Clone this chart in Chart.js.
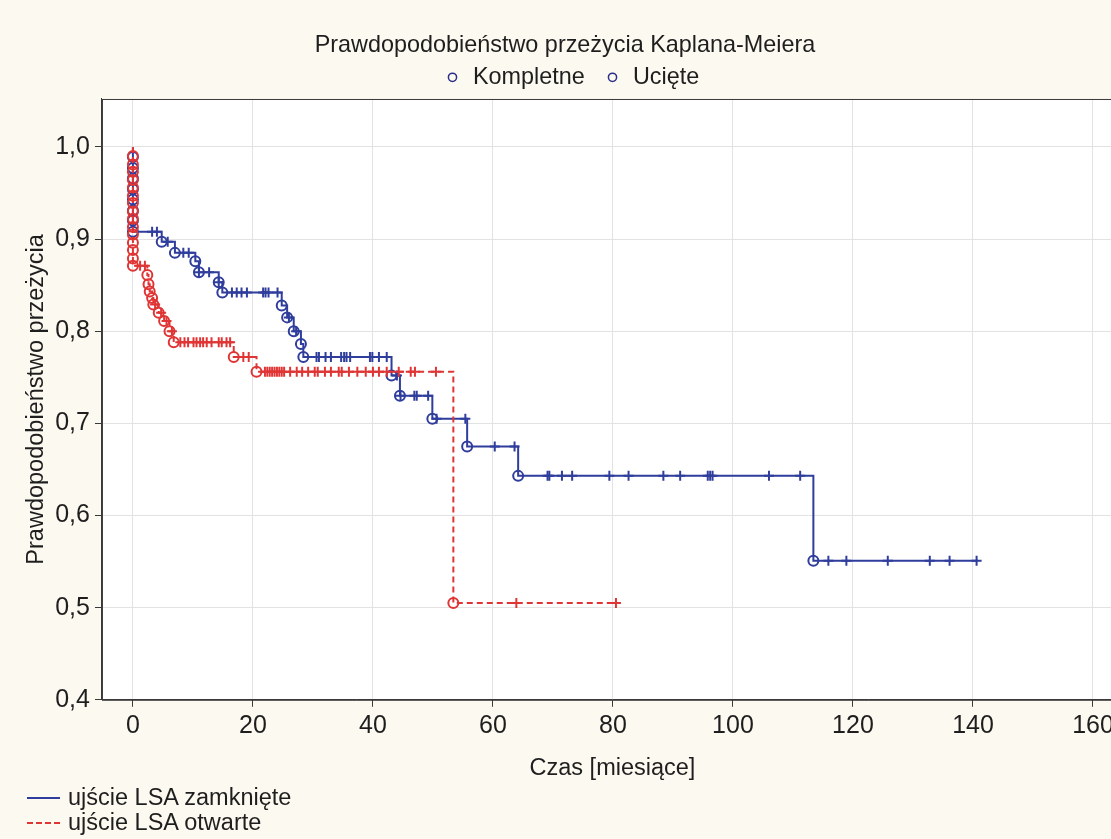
<!DOCTYPE html>
<html lang="pl">
<head>
<meta charset="utf-8">
<title>Kaplan-Meier</title>
<script src="https://cdn.jsdelivr.net/npm/chart.js@4.4.1/dist/chart.umd.min.js"></script>
<style>
  html, body { margin: 0; padding: 0; background: #fcf9f0; overflow: hidden; width: 1111px; height: 839px; }
  /* canvas runs a little past the right edge of the window, like the cut-off frame in the original */
  #wrap { position: relative; width: 1130px; height: 839px; }
  #bottomLegend {
    position: absolute; left: 27px; top: 785px;
    font-family: "Liberation Sans", Arial, sans-serif; font-size: 23.5px; color: #1e1e1e;
  }
  .row { display: flex; align-items: center; height: 25px; }
  .sample { width: 33px; height: 2px; margin-right: 8px; }
  .solid { background: #2f3d9c; }
  .dashed { background: repeating-linear-gradient(to right, #e03535 0 6px, transparent 6px 9px); }
</style>
</head>
<body>
<div id="wrap">
  <canvas id="km"></canvas>
  <div id="bottomLegend">
    <div class="row"><div class="sample solid"></div>ujście LSA zamknięte</div>
    <div class="row"><div class="sample dashed"></div>ujście LSA otwarte</div>
  </div>
</div>
<script>
// ---------- Data ----------
// ujście LSA zamknięte (blue): events = step times and survival after each step
const closedEventTimes = [0, 0, 0, 0, 0, 0, 0, 0, 4.8, 7.0, 10.4, 11.0, 14.3, 14.9, 24.8, 25.7, 26.8, 28.0, 28.4, 43.1, 44.5, 49.9, 55.7, 64.2, 113.4];
const closedEventSurv  = [0.989, 0.977, 0.966, 0.954, 0.943, 0.931, 0.920, 0.908, 0.897, 0.885, 0.876, 0.864, 0.853, 0.842, 0.828, 0.815, 0.800, 0.786, 0.772, 0.752, 0.730, 0.705, 0.675, 0.643, 0.551];
const closedCensored   = [3.2, 4.0, 5.8, 8.4, 9.3, 11.0, 12.7, 14.3, 16.5, 17.3, 18.1, 19.0, 21.7, 22.1, 22.6, 24.1,
  26.0, 27.2, 30.6, 31.0, 32.1, 33.0, 34.7, 35.2, 35.6, 36.2, 39.5, 39.9, 41.0, 42.3, 44.0, 44.6, 46.9, 47.3, 49.2,
  50.6, 55.4, 60.3, 63.6, 69.1, 69.4, 71.5, 73.2, 79.4, 82.6, 88.4, 91.2, 95.8, 96.2, 96.6, 106.0, 111.2,
  115.9, 118.9, 125.8, 132.8, 136.1, 140.6];
const closedEnd = 140.8;

// ujście LSA otwarte (red)
const openEventTimes = [0, 0, 0, 0, 0, 0, 0, 0, 0, 0, 0, 0, 0, 0, 0, 2.4, 2.6, 2.8, 3.2, 3.4, 4.3, 5.2, 6.1, 6.8, 16.8, 20.6, 53.4];
const openEventSurv  = [0.990, 0.981, 0.973, 0.964, 0.956, 0.947, 0.939, 0.930, 0.922, 0.913, 0.905, 0.896, 0.888, 0.879, 0.871,
  0.861, 0.851, 0.843, 0.836, 0.829, 0.820, 0.811, 0.800, 0.788, 0.772, 0.756, 0.505];
const openCensored   = [1.2, 2.0, 3.7, 4.7, 5.6, 6.5, 7.9, 8.6, 9.2, 10.1, 10.6, 11.2, 11.7, 12.3, 13.1, 14.3, 14.8, 15.6, 16.2,
  18.4, 19.3, 22.0, 22.4, 22.8, 23.2, 23.6, 24.0, 24.4, 24.8, 25.2, 26.2, 27.3, 28.2, 29.2, 30.3, 30.8, 32.0, 33.0,
  34.3, 34.8, 36.0, 37.4, 38.8, 40.0, 41.0, 42.3, 44.3, 46.3, 47.0, 50.5, 63.9, 80.5];
const openEnd = 80.5;

const xTicks = [0, 20, 40, 60, 80, 100, 120, 140, 160];
const yTicks = [0.4, 0.5, 0.6, 0.7, 0.8, 0.9, 1.0];

// ---------- Helpers ----------
const BLUE = '#2f3d9c';
const RED = '#e03535';
const FONT = '"Liberation Sans", Arial, sans-serif';
const TEXT = '#1e1e1e';

function stepLine(times, surv, end) {
  const pts = [{ x: 0, y: 1 }];
  times.forEach((t, i) => pts.push({ x: t, y: surv[i] }));
  pts.push({ x: end, y: surv[surv.length - 1] });
  return pts;
}
function eventPoints(times, surv) {
  return times.map((t, i) => ({ x: t, y: surv[i] }));
}
// censored marks sit on the curve level at their time
function censorPoints(cens, times, surv) {
  return cens.map(c => {
    let s = 1;
    times.forEach((t, i) => { if (t <= c) s = surv[i]; });
    return { x: c, y: s };
  });
}

const frame = {
  id: 'frame',
  beforeDraw(chart) {
    const { ctx, chartArea: a } = chart;
    ctx.save();
    ctx.fillStyle = '#ffffff';
    ctx.fillRect(a.left, a.top, a.right - a.left, a.bottom - a.top);
    ctx.restore();
  },
  beforeDatasetsDraw(chart) {
    const { ctx, chartArea: a } = chart;
    ctx.save();
    ctx.strokeStyle = '#3a3a3a';
    ctx.lineWidth = 1;
    ctx.strokeRect(a.left + 0.5, a.top + 0.5, a.right - a.left - 1, a.bottom - a.top);
    ctx.restore();
  }
};

const lineDs = (label, data, color, dash) => ({
  type: 'line', label, data, borderColor: color, borderWidth: 2, borderDash: dash,
  stepped: true, pointRadius: 0, fill: false
});
const markDs = (label, data, color, style) => ({
  type: 'scatter', label, data, borderColor: color, backgroundColor: 'rgba(0,0,0,0)',
  pointStyle: style, pointRadius: 5, borderWidth: 2
});

new Chart(document.getElementById('km'), {
  data: {
    datasets: [
      markDs('otwarte Kompletne', eventPoints(openEventTimes, openEventSurv), RED, 'circle'),
      markDs('otwarte Ucięte', censorPoints(openCensored, openEventTimes, openEventSurv), RED, 'cross'),
      lineDs('ujście LSA otwarte', stepLine(openEventTimes, openEventSurv, openEnd), RED, [6, 4]),
      markDs('zamknięte Kompletne', eventPoints(closedEventTimes, closedEventSurv), BLUE, 'circle'),
      markDs('zamknięte Ucięte', censorPoints(closedCensored, closedEventTimes, closedEventSurv), BLUE, 'cross'),
      lineDs('ujście LSA zamknięte', stepLine(closedEventTimes, closedEventSurv, closedEnd), BLUE, [])
    ]
  },
  options: {
    responsive: true,
    maintainAspectRatio: false,
    animation: false,
    layout: { padding: { left: 13, right: 0, top: 0, bottom: 56 } },
    plugins: {
      tooltip: { enabled: false },
      title: {
        display: true,
        // trailing spaces nudge the centred title a bit left of the legend, as in the original
        text: 'Prawdopodobieństwo przeżycia Kaplana-Meiera  ',
        color: TEXT,
        font: { family: FONT, size: 23.4, weight: 'normal' },
        padding: { top: 31.5, bottom: 0 }
      },
      legend: {
        display: true,
        position: 'top',
        labels: {
          color: TEXT,
          font: { family: FONT, size: 23.4 },
          usePointStyle: true,
          boxWidth: 17.5,
          boxHeight: 5.8,
          padding: 6,
          generateLabels: () => [
            { text: 'Kompletne  ', pointStyle: 'circle', fillStyle: 'rgba(0,0,0,0)', strokeStyle: '#2b2f8a', lineWidth: 1.5, fontColor: TEXT },
            { text: 'Ucięte', pointStyle: 'circle', fillStyle: 'rgba(0,0,0,0)', strokeStyle: '#2b2f8a', lineWidth: 1.5, fontColor: TEXT }
          ]
        }
      }
    },
    scales: {
      x: {
        type: 'linear',
        min: -5.16,
        max: 165,
        afterBuildTicks: s => { s.ticks = xTicks.map(v => ({ value: v })); },
        ticks: { color: TEXT, font: { family: FONT, size: 25 }, padding: 4, maxRotation: 0 },
        grid: { color: '#e2e2e2', tickColor: '#3a3a3a', tickLength: 7 },
        border: { color: '#3a3a3a' },
        title: {
          display: true, text: 'Czas [miesiące]', color: TEXT,
          font: { family: FONT, size: 23.5 }, padding: { top: 10, bottom: 0 }
        }
      },
      y: {
        type: 'linear',
        min: 0.4,
        max: 1.052,
        afterBuildTicks: s => { s.ticks = yTicks.map(v => ({ value: v })); },
        ticks: {
          color: TEXT, font: { family: FONT, size: 25 }, padding: 5,
          callback: v => v.toFixed(1).replace('.', ',')
        },
        grid: { color: '#e2e2e2', tickColor: '#3a3a3a', tickLength: 7 },
        border: { color: '#3a3a3a' },
        title: {
          display: true, text: 'Prawdopodobieństwo przeżycia', color: TEXT,
          font: { family: FONT, size: 23.5 }, padding: { top: 9, bottom: 0 }
        }
      }
    }
  },
  plugins: [frame]
});
</script>
</body>
</html>
